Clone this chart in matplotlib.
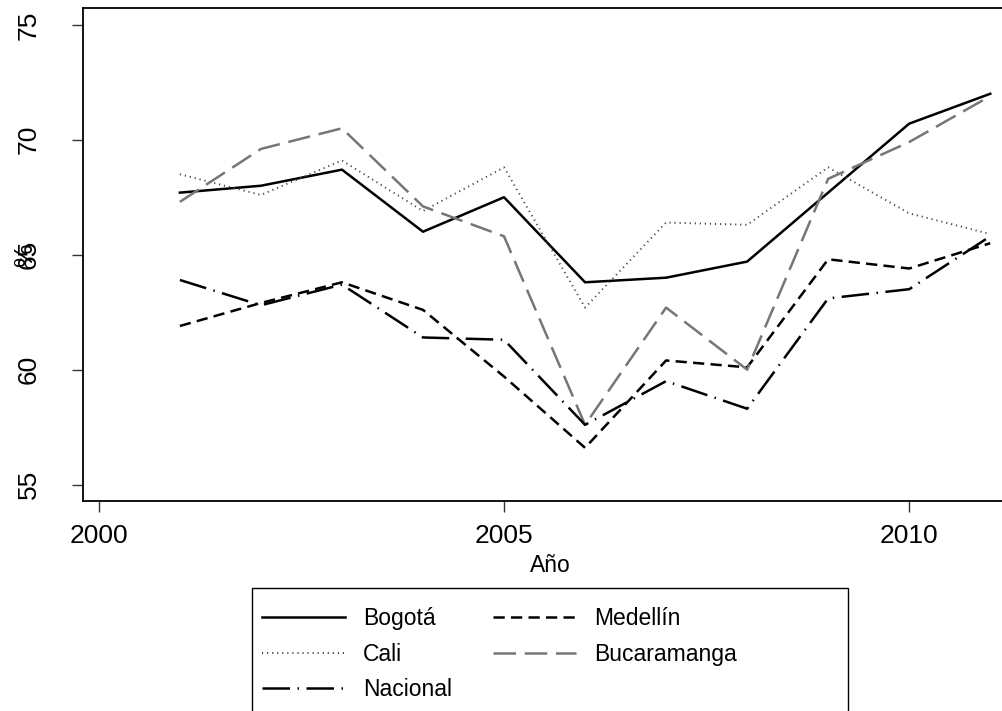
import matplotlib
matplotlib.use("Agg")
import matplotlib.pyplot as plt
from matplotlib.patches import Rectangle

plt.rcParams['font.family'] = ['Liberation Sans', 'DejaVu Sans']

# --- data ---
years = [2001, 2002, 2003, 2004, 2005, 2006, 2007, 2008, 2009, 2010, 2011]
bogota = [67.7, 68.0, 68.7, 66.0, 67.5, 63.8, 64.0, 64.7, 67.7, 70.7, 72.0]
medellin = [61.9, 62.9, 63.8, 62.6, 59.7, 56.6, 60.4, 60.1, 64.8, 64.4, 65.5]
cali = [68.5, 67.6, 69.1, 66.9, 68.8, 62.7, 66.4, 66.3, 68.8, 66.8, 65.9]
bucaramanga = [67.3, 69.6, 70.5, 67.1, 65.8, 57.6, 62.7, 60.0, 68.3, 69.9, 71.9]
nacional = [63.9, 62.8, 63.7, 61.4, 61.3, 57.6, 59.5, 58.3, 63.1, 63.5, 65.8]

x_ticks = [2000, 2005, 2010]
y_ticks = [55, 60, 65, 70, 75]

W, H = 1002, 711
fig = plt.figure(figsize=(W / 100, H / 100), dpi=100)
ax = fig.add_axes([0.0825, 0.2958, 0.93, 0.6929])

l_bog, = ax.plot(years, bogota, color='black', lw=1.8, label='Bogotá')
l_med, = ax.plot(years, medellin, color='black', lw=1.8,
                 dashes=(4.5, 2.5), label='Medellín')
l_cal, = ax.plot(years, cali, color='#444444', lw=1.4,
                 dashes=(0.6, 2.0), label='Cali')
l_buc, = ax.plot(years, bucaramanga, color='#767676', lw=1.8,
                 dashes=(9, 3.5), label='Bucaramanga')
l_nac, = ax.plot(years, nacional, color='black', lw=1.8,
                 dashes=(11, 3, 0.6, 3), label='Nacional')

ax.set_xlim(1999.8, 2011.3)
ax.set_ylim(54.3, 75.73)
ax.set_xticks(x_ticks)
ax.set_yticks(y_ticks)
ax.tick_params(axis='both', direction='out', length=8, width=1.0,
               labelsize=19, color='#333333')
ax.tick_params(axis='x', pad=9)
ax.tick_params(axis='y', pad=22)
for lab in ax.get_yticklabels():
    lab.set_rotation(90)
    lab.set_va('center')

ax.spines['right'].set_visible(False)
for s in ['left', 'top', 'bottom']:
    ax.spines[s].set_linewidth(1.3)

fig.text(25 / W, 1 - 254 / H, '%', rotation=90, fontsize=19,
         ha='center', va='center')
fig.text(550 / W, 1 - 566 / H, 'Año', fontsize=16.5,
         ha='center', va='center')

# legend frame runs off the bottom of the picture, as in the reference
fig.patches.append(Rectangle((252 / W, -0.05), (848 - 252) / W,
                             (711 - 588) / H + 0.05,
                             transform=fig.transFigure, fill=False,
                             edgecolor='black', lw=1.0))

leg = fig.legend([l_bog, l_cal, l_nac, l_med, l_buc],
                 ['Bogotá', 'Cali', 'Nacional', 'Medellín', 'Bucaramanga'],
                 ncol=2, loc='upper left',
                 bbox_to_anchor=(262 / W, 1 - 607 / H),
                 fontsize=16.5, frameon=False,
                 handlelength=3.6, handletextpad=0.8, columnspacing=1.8,
                 labelspacing=0.55, borderpad=0.0, borderaxespad=0)

fig.savefig('out.png', dpi=100)
